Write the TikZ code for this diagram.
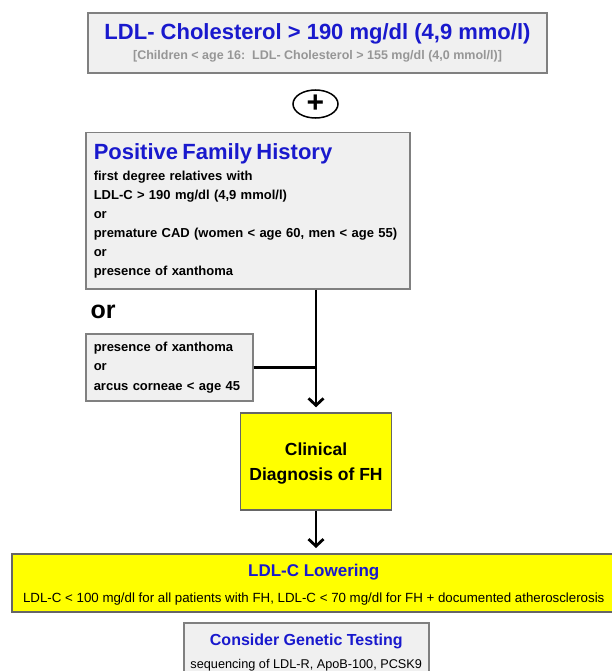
\documentclass[tikz,border=0pt]{standalone}
\usepackage{fontspec}
\setmainfont{Liberation Sans}
\usetikzlibrary{shapes,arrows.meta}
\definecolor{hblue}{RGB}{25,25,205}
\definecolor{hgray}{RGB}{150,150,150}
\definecolor{boxfill}{RGB}{240,240,240}
\definecolor{boxline}{RGB}{128,128,128}
\definecolor{fhyellow}{RGB}{255,255,0}
\tikzstyle{greybox}=[draw=boxline,fill=boxfill,line width=1.5pt,inner sep=0pt]
\tikzstyle{yellowbox}=[draw=boxline!80!black,fill=fhyellow,line width=1.5pt,inner sep=0pt]
\tikzstyle{flow}=[line width=2.8pt,-{Straight Barb[length=7pt,width=15pt]},shorten >=5pt]
\tikzstyle{link}=[line width=2.8pt]
\newcommand{\bluehead}[2]{{\fontsize{#1}{#1}\selectfont\bfseries\color{hblue}#2}}

\begin{document}
\begin{tikzpicture}[x=1pt,y=-1pt]
  \useasboundingbox (0,0) rectangle (611,671);
  \node[greybox,minimum width=459pt,minimum height=60pt,align=center,font=\fontsize{12.5}{20}\selectfont] (ldl) at (317.5,43)
    {\bluehead{22}{LDL- Cholesterol > 190 mg/dl (4,9 mmo/l)}\\ {\bfseries\color{hgray}[Children < age 16:\ \ LDL- Cholesterol > 155 mg/dl (4,0 mmol/l)]}};
  \node[ellipse,draw,line width=1.5pt,minimum width=45pt,minimum height=28pt,inner sep=0pt,font=\fontsize{30}{30}\selectfont\bfseries] (plus) at (315.5,104) {+};
  \node[greybox,anchor=north west,minimum width=324pt,minimum height=156pt,inner xsep=8pt,text width=308pt,align=left,font=\fontsize{13}{19}\selectfont\bfseries] (fh) at (85,132)
    {\bluehead{22}{Positive Family History}\\[2.5pt]
     first degree relatives with\\
     LDL-C > 190 mg/dl (4,9 mmol/l)\\
     or\\
     premature CAD (women < age 60, men < age 55)\\
     or\\
     presence of xanthoma};
  \node[font=\fontsize{25}{25}\selectfont\bfseries] (or) at (103,312) {or};
  \node[greybox,anchor=north west,minimum width=167pt,minimum height=67pt,inner xsep=8pt,text width=151pt,align=left,font=\fontsize{13}{19.5}\selectfont\bfseries] (xb) at (85,333)
    {presence of xanthoma\\ or\\ arcus corneae < age 45};
  \node[yellowbox,minimum width=151pt,minimum height=97pt,align=center,font=\fontsize{17.5}{25}\selectfont\bfseries] (cd) at (316,461.5)
    {\rule{0pt}{16pt}Clinical\\ Diagnosis of FH};
  \node[yellowbox,anchor=north west,minimum width=604pt,minimum height=58pt,align=center,font=\fontsize{13.3}{26}\selectfont] (ll) at (11,553)
    {\rule{0pt}{17pt}\bluehead{17}{LDL-C Lowering}\\ LDL-C < 100 mg/dl for all patients with FH, LDL-C < 70 mg/dl for FH + documented atherosclerosis};
  \node[greybox,anchor=north west,minimum width=245pt,minimum height=52pt,align=center,font=\fontsize{12.7}{23}\selectfont] (gt) at (183,622)
    {\rule{0pt}{19pt}\bluehead{16}{Consider Genetic Testing}\\ sequencing of LDL-R, ApoB-100, PCSK9};

  \draw[flow] (cd.north |- fh.south) -- (cd.north);
  \draw[link] (xb.east) -- (xb.east -| cd.north);
  \draw[flow] (cd.south) -- (cd.south |- ll.north);
\end{tikzpicture}
\end{document}
